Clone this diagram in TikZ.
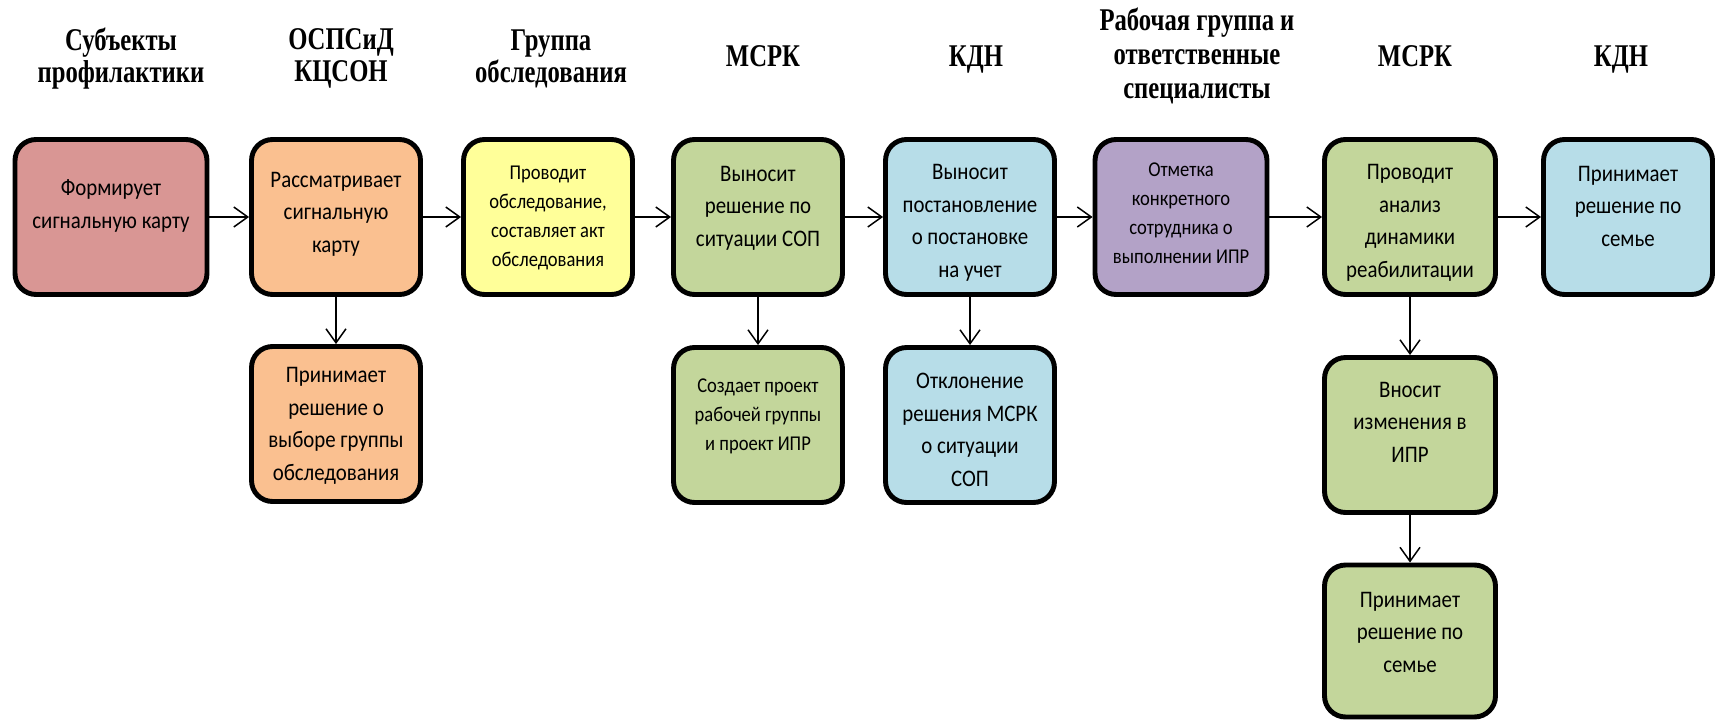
\documentclass[tikz,border=0pt]{standalone}
\usepackage{fontspec}
\usetikzlibrary{arrows.meta}
\newfontfamily\boxfont[FakeStretch=0.88]{Carlito}
\newfontfamily\headfont[FakeStretch=0.78]{Liberation Serif}
\definecolor{cRed}{HTML}{D99694}
\definecolor{cOrange}{HTML}{FAC090}
\definecolor{cYellow}{HTML}{FFFF99}
\definecolor{cGreen}{HTML}{C3D69B}
\definecolor{cBlue}{HTML}{B7DDE8}
\definecolor{cViolet}{HTML}{B3A2C7}
\tikzset{
  stagebox/.style={draw=black, line width=2.8pt, rounded corners=0.42cm,
    minimum width=3.38cm, minimum height=3.1cm, inner sep=0pt},
  boxtext/.style={align=center, inner sep=0pt,
    font=\boxfont\fontsize{13.5pt}{18.5pt}\selectfont},
  smalltext/.style={align=center, inner sep=0pt,
    font=\boxfont\fontsize{12pt}{16.5pt}\selectfont},
  headtext/.style={align=center, inner sep=0pt,
    font=\headfont\bfseries\fontsize{18pt}{18.1pt}\selectfont},
  flow/.style={draw=black, line width=0.85pt,
    -{Straight Barb[length=0.28cm, width=0.4cm, line width=0.85pt]}},
}
\begin{document}
\begin{tikzpicture}[x=0.02cm, y=-0.02cm]
\useasboundingbox (0,0) rectangle (1717,723);

% column headings
\node[headtext] (h1) at (121,58.5) {Субъекты\\профилактики};
\node[headtext] (h2) at (341,58.5) {ОСПСиД\\КЦСОН};
\node[headtext] (h3) at (551,58.5) {Группа\\обследования};
\node[headtext, anchor=base] (h4) at (763,67) {МСРК};
\node[headtext, anchor=base] (h5) at (976,67) {КДН};
\node[headtext, font=\headfont\bfseries\fontsize{18pt}{19.3pt}\selectfont]
  (h6) at (1197,56) {Рабочая группа и\\ответственные\\специалисты};
\node[headtext, anchor=base] (h7) at (1415,67) {МСРК};
\node[headtext, anchor=base] (h8) at (1621,67) {КДН};

% main row of stages
\node[stagebox, fill=cRed, minimum width=3.84cm] (b1) at (111,217) {};
\node[stagebox, fill=cOrange] (b2) at (336,217) {};
\node[stagebox, fill=cYellow] (b3) at (548,217) {};
\node[stagebox, fill=cGreen] (b4) at (758,217) {};
\node[stagebox, fill=cBlue] (b5) at (970,217) {};
\node[stagebox, fill=cViolet, minimum width=3.44cm] (b6) at (1181,217) {};
\node[stagebox, fill=cGreen, minimum width=3.42cm] (b7) at (1410,217) {};
\node[stagebox, fill=cBlue] (b8) at (1628,217) {};

% secondary stages
\node[stagebox, fill=cOrange] (b2b) at (336,424) {};
\node[stagebox, fill=cGreen] (b4b) at (758,425) {};
\node[stagebox, fill=cBlue] (b5b) at (970,425) {};
\node[stagebox, fill=cGreen, minimum width=3.42cm] (b7b) at (1410,435) {};
\node[stagebox, fill=cGreen, minimum width=3.42cm, minimum height=3.04cm] (b7c) at (1410,641) {};

% box texts
\node[boxtext] (t1) at (111,206) {Формирует\\сигнальную карту};
\node[boxtext] (t2) at (336,214) {Рассматривает\\сигнальную\\карту};
\node[smalltext] (t3) at (548,218) {Проводит\\обследование,\\составляет акт\\обследования};
\node[boxtext] (t4) at (758,208) {Выносит\\решение по\\ситуации СОП};
\node[boxtext] (t5) at (970,223) {Выносит\\постановление\\о постановке\\на учет};
\node[smalltext] (t6) at (1181,213) {Отметка\\конкретного\\сотрудника о\\выполнении ИПР};
\node[boxtext] (t7) at (1410,223) {Проводит\\анализ\\динамики\\реабилитации};
\node[boxtext] (t8) at (1628,206) {Принимает\\решение по\\семье};
\node[boxtext] (t2b) at (336,426) {Принимает\\решение о\\выборе группы\\обследования};
\node[smalltext] (t4b) at (758,416) {Создает проект\\рабочей группы\\и проект ИПР};
\node[boxtext] (t5b) at (970,430) {Отклонение\\решения МСРК\\о ситуации\\СОП};
\node[boxtext] (t7b) at (1410,422) {Вносит\\изменения в\\ИПР};
\node[boxtext] (t7c) at (1410,632) {Принимает\\решение по\\семье};

% connectors
\draw[flow] (b1) -- (b2);
\draw[flow] (b2) -- (b3);
\draw[flow] (b3) -- (b4);
\draw[flow] (b4) -- (b5);
\draw[flow] (b5) -- (b6);
\draw[flow] (b6) -- (b7);
\draw[flow] (b7) -- (b8);
\draw[flow] (b2) -- (b2b);
\draw[flow] (b4) -- (b4b);
\draw[flow] (b5) -- (b5b);
\draw[flow] (b7) -- (b7b);
\draw[flow] (b7b) -- (b7c);
\end{tikzpicture}
\end{document}
